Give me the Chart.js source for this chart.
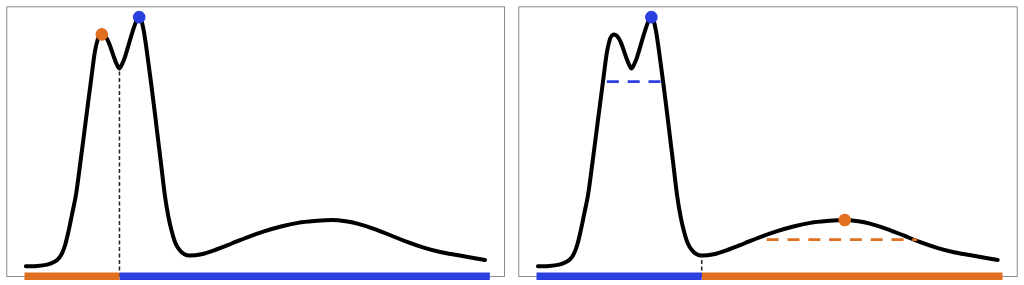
<!DOCTYPE html>
<html>
<head>
<meta charset="utf-8">
<script src="https://cdn.jsdelivr.net/npm/chart.js@4.4.0/dist/chart.umd.min.js"></script>
<style>
  html, body { margin: 0; padding: 0; background: #fff; }
  .panel { position: absolute; top: 0; width: 512px; height: 285px; }
</style>
</head>
<body>
<div class="panel" style="left:0"><canvas id="leftChart" width="512" height="285"></canvas></div>
<div class="panel" style="left:512px"><canvas id="rightChart" width="512" height="285"></canvas></div>
<script>
// --- DATA ---
const curveX = [0.30, 2.72, 4.86, 6.35, 7.21, 8.06, 8.71, 9.50, 10.20, 11.06, 11.91, 12.77, 13.62, 14.48, 15.12,
  15.76, 16.19, 16.62, 17.26, 18.05, 19.12, 19.83, 20.41, 21.00, 21.60, 22.67, 23.61, 24.21, 24.60, 25.07,
  25.75, 26.74, 27.68, 28.49, 29.35, 30.20, 30.95, 31.59, 32.45, 33.37, 34.37, 35.51, 38.01, 40.86, 44.43,
  48.00, 51.49, 55.13, 58.77, 62.25, 66.14, 69.03, 71.53, 75.08, 78.65, 82.22, 85.78, 89.35, 92.92, 96.47, 98.97];
const curveY = [0.042, 0.043, 0.048, 0.058, 0.069, 0.092, 0.123, 0.181, 0.242, 0.319, 0.431, 0.550, 0.669, 0.788, 0.873,
  0.923, 0.937, 0.941, 0.935, 0.912, 0.858, 0.825, 0.809, 0.827, 0.854, 0.919, 0.973, 1.000, 1.008, 0.998,
  0.942, 0.815, 0.685, 0.565, 0.438, 0.312, 0.231, 0.181, 0.131, 0.104, 0.088, 0.083, 0.088, 0.104, 0.129,
  0.155, 0.177, 0.196, 0.210, 0.217, 0.221, 0.216, 0.207, 0.187, 0.162, 0.136, 0.114, 0.097, 0.085, 0.074, 0.066];

const rugRange = [0, 100];
const rugLevel = 0.003;
const leftSplit = [20.41, 0.809];    // valley between the two tall peaks
const rightSplit = [35.45, 0.083];   // minimum after the tall peaks
const tallPeak = [16.62, 0.941];
const tallestPeak = [24.65, 1.008];
const broadPeak = [66.14, 0.221];
const tallWidth = [15.1, 26.8, 0.758];   // x from, x to, level
const broadWidth = [49.4, 81.7, 0.145];

const ORANGE = '#e06f1f';
const BLUE = '#2a40e0';

const curvePoints = curveX.map((x, i) => ({ x: x, y: curveY[i] }));

function seg(x1, y1, x2, y2) { return [{ x: x1, y: y1 }, { x: x2, y: y2 }]; }

const frame = {
  id: 'frame',
  beforeDatasetsDraw(chart) {
    const a = chart.chartArea, ctx = chart.ctx;
    ctx.save();
    ctx.strokeStyle = '#8c8c8c';
    ctx.lineWidth = 1;
    ctx.strokeRect(a.left + 0.5, a.top + 0.5, a.right - a.left - 1, a.bottom - a.top - 1);
    ctx.restore();
  }
};

const base = { showLine: true, pointRadius: 0, clip: false, fill: false };

function dot(p, color) {
  return { data: [{ x: p[0], y: p[1] }], pointRadius: 6.3, pointBackgroundColor: color,
    pointBorderWidth: 0, showLine: false, clip: false };
}

function rug(x1, x2, color) {
  return Object.assign({}, base, { data: seg(x1, rugLevel, x2, rugLevel), borderColor: color,
    borderWidth: 7.5, borderCapStyle: 'butt' });
}

function split(p) {
  return Object.assign({}, base, { data: seg(p[0], 0, p[0], p[1]), borderColor: '#222',
    borderWidth: 1.5, borderDash: [4, 2.5] });
}

function width(w, color) {
  return Object.assign({}, base, { data: seg(w[0], w[2], w[1], w[2]), borderColor: color,
    borderWidth: 2.8, borderDash: [12, 8.8] });
}

function makeChart(id, pad, extra) {
  new Chart(document.getElementById(id), {
    type: 'scatter',
    data: { datasets: extra.concat([
      Object.assign({}, base, { data: curvePoints, borderColor: '#000', borderWidth: 4,
        tension: 0.35, borderCapStyle: 'round', borderJoinStyle: 'round' })
    ]) },
    options: {
      responsive: false,
      animation: false,
      events: [],
      layout: { padding: pad },
      scales: {
        x: { type: 'linear', display: false, min: -3.91, max: 103.26 },
        y: { type: 'linear', display: false, min: 0, max: 1.05 }
      },
      plugins: { legend: { display: false }, tooltip: { enabled: false } }
    },
    plugins: [frame]
  });
}

// Left panel: split at the valley
makeChart('leftChart', { left: 4, top: 4, right: 7, bottom: 8 }, [
  dot(tallestPeak, BLUE),
  dot(tallPeak, ORANGE),
  rug(rugRange[0], leftSplit[0], ORANGE),
  rug(leftSplit[0], rugRange[1], BLUE),
  split(leftSplit)
]);

// Right panel: split at the minimum, widths of the two modes
makeChart('rightChart', { left: 6, top: 4, right: 5, bottom: 8 }, [
  dot(tallestPeak, BLUE),
  dot(broadPeak, ORANGE),
  rug(rugRange[0], rightSplit[0], BLUE),
  rug(rightSplit[0], rugRange[1], ORANGE),
  width(tallWidth, BLUE),
  width(broadWidth, ORANGE),
  split(rightSplit)
]);
</script>
</body>
</html>
